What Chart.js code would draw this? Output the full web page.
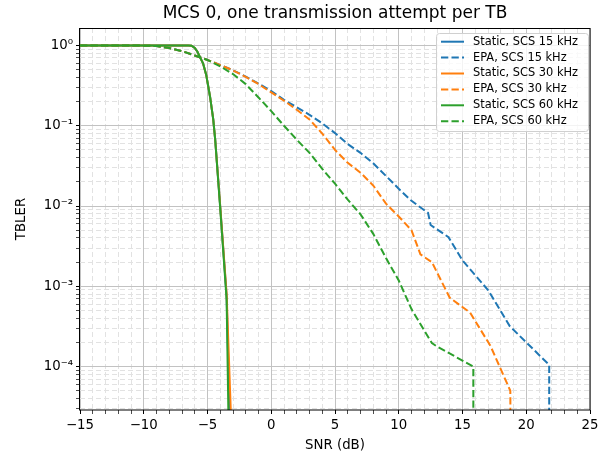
<!DOCTYPE html>
<html>
<head>
<meta charset="utf-8">
<script src="https://cdn.jsdelivr.net/npm/chart.js@4/dist/chart.umd.min.js"></script>
<style>
  html, body { margin: 0; padding: 0; background: #fff; }
</style>
</head>
<body>
<canvas id="tblerChart" width="610" height="456"></canvas>
<script>
// values: SNR in dB, TBLER
var static15Snr  = [-15, -10, -8, -7, -6.5, -6.25, -6.0, -5.8, -5.6, -5.35, -5.1, -4.8, -4.55, -4.4, -4.0, -3.5, -3.05];
var static15Bler = [1, 1, 1, 1, 0.999, 0.995, 0.93, 0.84, 0.72, 0.60, 0.43, 0.23, 0.12, 0.068, 0.0098, 0.00075, 0.000001];

var epa15Snr  = [-15, -12, -10, -9, -8, -7, -6, -5, -4, -3, -2, -1, 0, 1, 2, 3, 4, 5, 6, 7, 8, 9, 10, 11, 12.3, 12.5, 13.9, 15, 17, 18.7, 21.8, 21.8];
var epa15Bler = [1, 1, 0.995, 0.985, 0.93, 0.85, 0.75, 0.66, 0.57, 0.49, 0.41, 0.335, 0.27, 0.21, 0.17, 0.137, 0.107, 0.081, 0.059, 0.046, 0.034, 0.0237, 0.0164, 0.0116, 0.0082, 0.0058, 0.0041, 0.0021, 0.0009, 0.00032, 0.000105, 0.000001];

var static30Snr  = [-15, -10, -8, -7, -6.5, -6.25, -6.0, -5.8, -5.6, -5.35, -5.1, -4.8, -4.55, -4.4, -4.0, -3.5, -2.85];
var static30Bler = [1, 1, 1, 1, 0.999, 0.995, 0.93, 0.84, 0.72, 0.60, 0.43, 0.23, 0.12, 0.068, 0.0098, 0.0008, 0.000001];

var epa30Snr  = [-15, -12, -10, -9, -8, -7, -6, -5, -4, -3, -2, -1, 0, 1, 2, 3, 4, 5, 6, 7, 8, 9, 10, 11, 11.7, 12.6, 14, 15.6, 17.2, 18.75, 18.8];
var epa30Bler = [1, 1, 0.995, 0.985, 0.93, 0.85, 0.75, 0.66, 0.57, 0.49, 0.405, 0.33, 0.26, 0.205, 0.158, 0.12, 0.08, 0.05, 0.0345, 0.026, 0.018, 0.0107, 0.0074, 0.005, 0.0025, 0.002, 0.00072, 0.00047, 0.00018, 0.00005, 0.000001];

var static60Snr  = [-15, -10, -8, -7, -6.5, -6.25, -6.0, -5.8, -5.6, -5.35, -5.1, -4.8, -4.55, -4.4, -4.0, -3.5, -3.22];
var static60Bler = [1, 1, 1, 1, 0.999, 0.995, 0.93, 0.84, 0.72, 0.60, 0.43, 0.23, 0.12, 0.068, 0.0092, 0.00068, 0.000001];

var epa60Snr  = [-15, -12, -10, -9, -8, -7, -6, -5, -4, -3, -2, -1, 0, 1, 2, 3, 4, 5, 6, 7, 8, 9, 10, 11, 12.6, 13.0, 15.85, 15.85];
var epa60Bler = [1, 1, 0.995, 0.985, 0.93, 0.85, 0.75, 0.66, 0.55, 0.44, 0.33, 0.225, 0.152, 0.1, 0.067, 0.046, 0.029, 0.019, 0.012, 0.0079, 0.0045, 0.00225, 0.00118, 0.00052, 0.000196, 0.000178, 0.0001, 0.000001];

var seriesLabels = ['Static, SCS 15 kHz', 'EPA, SCS 15 kHz', 'Static, SCS 30 kHz', 'EPA, SCS 30 kHz', 'Static, SCS 60 kHz', 'EPA, SCS 60 kHz'];
var xMajorTicks = [-15, -10, -5, 0, 5, 10, 15, 20, 25];
var yDecades = [-5, -4, -3, -2, -1, 0];
var yTickLabels = ['10⁻⁵', '10⁻⁴', '10⁻³', '10⁻²', '10⁻¹', '10⁰'];
var yMinorSteps = [2, 3, 4, 5, 6, 7, 8, 9];

var FONT = '"DejaVu Sans", "Liberation Sans", sans-serif';
var blue = '#1f77b4', orange = '#ff7f0e', green = '#2ca02c';
var dash = [7.3, 3.2];

function pairs(xs, ys) {
    return xs.map(function(x, i) { return {x: x, y: ys[i]}; });
}

function series(i, xs, ys, color, dashed) {
    return {
        label: seriesLabels[i],
        data: pairs(xs, ys),
        borderColor: color,
        backgroundColor: color,
        borderWidth: 2,
        borderDash: dashed ? dash : [],
        pointRadius: 0,
        tension: 0,
        fill: false,
        order: 6 - i   // later series on top, like the original
    };
}

function isDecade(v) {
    var e = Math.round(Math.log10(v));
    return Math.abs(v / Math.pow(10, e) - 1) < 1e-6;
}

// frame round the plot + legend box in the upper right
var frameAndLegend = {
    id: 'frameAndLegend',
    afterDatasetsDraw: function(chart) {
        var a = chart.chartArea, ctx = chart.ctx;
        ctx.save();
        ctx.strokeStyle = '#000';
        ctx.lineWidth = 1;
        ctx.strokeRect(Math.round(a.left) - 0.5, Math.round(a.top) + 0.5,
            Math.round(a.right) - Math.round(a.left) + 0.5, Math.round(a.bottom) - Math.round(a.top) - 0.5);
        ctx.restore();
    },
    afterDraw: function(chart) {
        var a = chart.chartArea, ctx = chart.ctx;
        var bx = 436, by = a.top + 5, bw = a.right - 2 - bx, bh = 98;
        ctx.save();
        ctx.beginPath();
        ctx.roundRect(bx + 0.5, by + 0.5, bw, bh, 3);
        ctx.fillStyle = 'rgba(255,255,255,0.8)';
        ctx.fill();
        ctx.strokeStyle = '#d0d0d0';
        ctx.lineWidth = 1;
        ctx.stroke();
        ctx.font = '11.4px ' + FONT;
        ctx.textBaseline = 'middle';
        ctx.textAlign = 'left';
        chart.data.datasets.forEach(function(ds, i) {
            var y = by + 8.7 + i * 15.9;
            ctx.beginPath();
            ctx.setLineDash(ds.borderDash);
            ctx.strokeStyle = ds.borderColor;
            ctx.lineWidth = 2;
            ctx.moveTo(441, y);
            ctx.lineTo(464, y);
            ctx.stroke();
            ctx.setLineDash([]);
            ctx.fillStyle = '#000';
            ctx.fillText(ds.label, 473, y);
        });
        ctx.restore();
    }
};

var ctx = document.getElementById('tblerChart').getContext('2d');

var chart = new Chart(ctx, {
    type: 'line',
    data: {
        datasets: [
            series(0, static15Snr, static15Bler, blue, false),
            series(1, epa15Snr, epa15Bler, blue, true),
            series(2, static30Snr, static30Bler, orange, false),
            series(3, epa30Snr, epa30Bler, orange, true),
            series(4, static60Snr, static60Bler, green, false),
            series(5, epa60Snr, epa60Bler, green, true)
        ]
    },
    options: {
        responsive: false,
        animation: false,
        devicePixelRatio: 1,
        layout: { padding: { left: 0, right: 20, top: 0, bottom: 0 } },
        plugins: {
            legend: { display: false },
            tooltip: { enabled: false },
            title: {
                display: true,
                text: 'MCS 0, one transmission attempt per TB',
                fullSize: false,
                color: '#000',
                font: { family: FONT, size: 17, weight: 'normal', lineHeight: 1.2 },
                padding: { top: 3.5, bottom: 4.1 }
            }
        },
        scales: {
            x: {
                type: 'linear',
                min: -15,
                max: 25,
                afterFit: function(scale) { scale.height = 46; },
                ticks: {
                    stepSize: 1,
                    autoSkip: false,
                    maxRotation: 0,
                    padding: 4,
                    color: '#000',
                    font: { family: FONT, size: 13.3 },
                    callback: function(v) {
                        if (xMajorTicks.indexOf(v) < 0) return '';
                        return v < 0 ? '\u2212' + Math.abs(v) : String(v);
                    }
                },
                grid: {
                    tickLength: 4,
                    color: function(c) {
                        return c.tick && xMajorTicks.indexOf(c.tick.value) >= 0 ? '#c2c2c2' : '#e2e2e2';
                    },
                    lineWidth: 1,
                    tickColor: '#000',
                    tickWidth: function(c) {
                        return c.tick && xMajorTicks.indexOf(c.tick.value) >= 0 ? 1 : 0.7;
                    }
                },
                border: {
                    display: false,
                    dash: function(c) {
                        return c.tick && xMajorTicks.indexOf(c.tick.value) < 0 ? [5, 3] : [];
                    }
                },
                title: {
                    display: true,
                    text: 'SNR (dB)',
                    color: '#000',
                    font: { family: FONT, size: 13.3, lineHeight: 1.2 },
                    padding: { top: 0, bottom: 2 }
                }
            },
            y: {
                type: 'logarithmic',
                min: 2.88e-5,
                max: 1.65,
                afterFit: function(scale) { scale.width = 80; },
                afterBuildTicks: function(scale) {
                    var list = [];
                    yDecades.forEach(function(e) {
                        var base = Math.pow(10, e);
                        [1].concat(yMinorSteps).forEach(function(m) {
                            var v = m * base;
                            if (v >= scale.min && v <= scale.max) list.push({ value: v });
                        });
                    });
                    scale.ticks = list;
                },
                ticks: {
                    autoSkip: false,
                    padding: 3,
                    color: '#000',
                    font: { family: FONT, size: 13.3 },
                    callback: function(v) {
                        if (!isDecade(v)) return '';
                        var idx = yDecades.indexOf(Math.round(Math.log10(v)));
                        return yTickLabels[idx];
                    }
                },
                grid: {
                    tickLength: 4,
                    color: function(c) {
                        return c.tick && isDecade(c.tick.value) ? '#c2c2c2' : '#e2e2e2';
                    },
                    lineWidth: 1,
                    tickColor: '#000',
                    tickWidth: function(c) {
                        return c.tick && isDecade(c.tick.value) ? 1 : 0.7;
                    }
                },
                border: {
                    display: false,
                    dash: function(c) {
                        return c.tick && !isDecade(c.tick.value) ? [5, 3] : [];
                    }
                },
                title: {
                    display: true,
                    text: 'TBLER',
                    color: '#000',
                    font: { family: FONT, size: 13.3, lineHeight: 1.2 },
                    padding: { top: 14, bottom: 0 }
                }
            }
        }
    },
    plugins: [frameAndLegend]
});
</script>
</body>
</html>
